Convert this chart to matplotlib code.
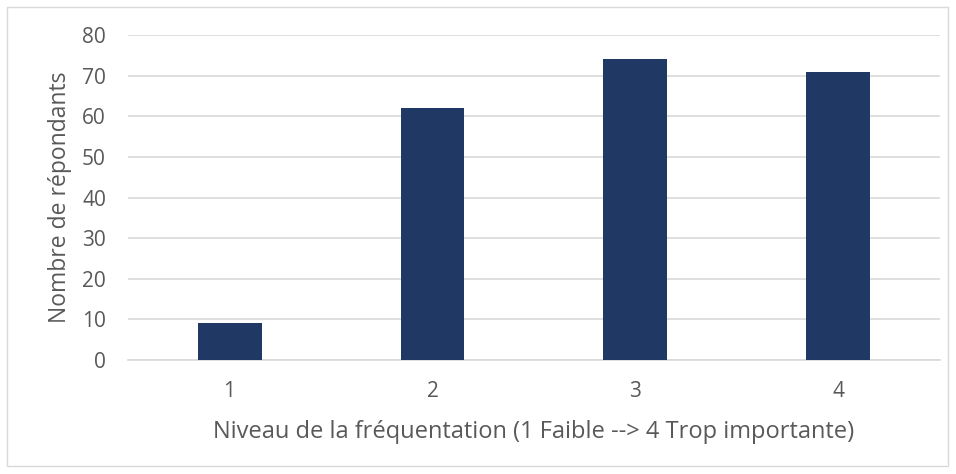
import matplotlib.pyplot as plt
from matplotlib.patches import Rectangle

# Data
niveaux = ['1', '2', '3', '4']
repondants = [9, 62, 74, 71]

plt.rcParams['font.family'] = ['Open Sans', 'DejaVu Sans']

fig = plt.figure(figsize=(9.56, 4.74), dpi=100)
ax = fig.add_axes([0.134, 0.2405, 0.849, 0.6855])

x = range(1, len(niveaux) + 1)
ax.bar(x, repondants, width=0.315, color='#203864', zorder=3)

ax.set_xlim(0.5, 4.5)
ax.set_ylim(0, 80)
ax.set_yticks(range(0, 81, 10))
ax.set_xticks(list(x))
ax.set_xticklabels(niveaux)
ax.grid(axis='y', color='#d9d9d9', linewidth=1.2, zorder=0)
for s in ['top', 'right', 'left']:
    ax.spines[s].set_visible(False)
ax.spines['bottom'].set_color('#d9d9d9')
ax.spines['bottom'].set_linewidth(1.2)
ax.tick_params(length=0, labelsize=15, colors='#595959')
ax.tick_params(axis='x', pad=15)
ax.tick_params(axis='y', pad=16)

ax.set_xlabel('Niveau de la fréquentation (1 Faible --> 4 Trop importante)',
              fontsize=17, color='#595959', labelpad=13)
ax.set_ylabel('Nombre de répondants', fontsize=16.5, color='#595959', labelpad=7)

# light frame round the whole chart
fig.patches.append(Rectangle((7 / 956, 8 / 474), 941 / 956, 459 / 474,
                             transform=fig.transFigure, fill=False,
                             edgecolor='#d9d9d9', linewidth=1))

fig.savefig('out.png', dpi=100)
